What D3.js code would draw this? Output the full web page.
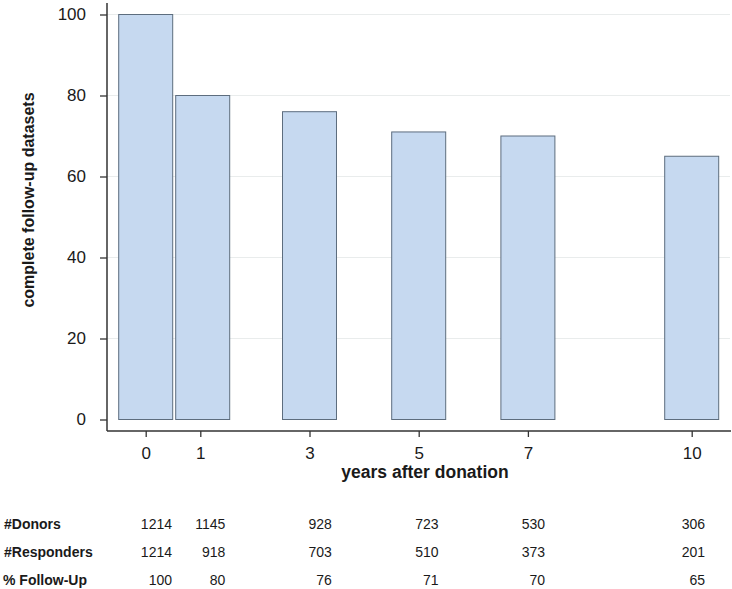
<!DOCTYPE html>
<html>
<head>
<meta charset="utf-8">
<script src="https://cdn.jsdelivr.net/npm/d3@7"></script>
<style>
  html, body { margin: 0; padding: 0; background: #fff; }
  svg { display: block; font-family: "Liberation Sans", Arial, sans-serif; }
</style>
</head>
<body>
<svg id="chart" width="732" height="589"></svg>
<script>
// ---- data ----
const years = [0, 1, 3, 5, 7, 10];
const followUpPct = [100, 80, 76, 71, 70, 65];
const donors = [1214, 1145, 928, 723, 530, 306];
const responders = [1214, 918, 703, 510, 373, 201];
const yTicks = [0, 20, 40, 60, 80, 100];
const rowLabels = ["#Donors", "#Responders", "% Follow-Up"];
const xTitle = "years after donation";
const yTitle = "complete follow-up datasets";

// ---- layout ----
const svg = d3.select("#chart");
const axisX0 = 107, axisX1 = 731, axisY = 431, axisTop = 3;
const x = d3.scaleLinear().domain([0, 10]).range([145.7, 691.7]);
const y = d3.scaleLinear().domain([0, 100]).range([419.5, 14.5]);
const xTable = d3.scaleLinear().domain([0, 10]).range([172, 705]);
const barW = 54, barGap = 3;
const textColor = "#1a1a1a";

// bar left edges: centred on the tick, pushed right if they would touch the previous bar
const barLeft = [];
years.forEach((d, i) => {
  let left = x(d) - barW / 2;
  if (i > 0) left = Math.max(left, barLeft[i - 1] + barW + barGap);
  barLeft.push(left);
});

// gridlines
svg.append("g").selectAll("line").data(yTicks.filter(d => d > 0)).join("line")
  .attr("x1", axisX0).attr("x2", 730)
  .attr("y1", d => y(d)).attr("y2", d => y(d))
  .attr("stroke", "#e9ecec").attr("stroke-width", 1.2);

// bars
svg.append("g").selectAll("rect").data(years).join("rect")
  .attr("x", (d, i) => barLeft[i])
  .attr("y", (d, i) => y(followUpPct[i]))
  .attr("width", barW)
  .attr("height", (d, i) => y(0) - y(followUpPct[i]))
  .attr("fill", "#c6d9f0")
  .attr("stroke", "#5d6d7e")
  .attr("stroke-width", 1);

// y axis
const yAxis = svg.append("g").attr("transform", `translate(${axisX0},0)`)
  .call(d3.axisLeft(y).tickValues(yTicks).tickSize(7).tickPadding(14));
yAxis.select(".domain").remove();
yAxis.selectAll(".tick line").attr("stroke", "#333").attr("stroke-width", 1.3);
yAxis.selectAll(".tick text").attr("font-size", 17).attr("fill", textColor)
  .attr("font-family", "'Liberation Sans', Arial, sans-serif");

// x axis
const xAxis = svg.append("g").attr("transform", `translate(0,${axisY})`)
  .call(d3.axisBottom(x).tickValues(years).tickSize(6).tickPadding(10));
xAxis.select(".domain").remove();
xAxis.selectAll(".tick line").attr("stroke", "#333").attr("stroke-width", 1.3);
xAxis.selectAll(".tick text").attr("font-size", 17).attr("fill", textColor)
  .attr("font-family", "'Liberation Sans', Arial, sans-serif");

// axis lines
svg.append("line").attr("x1", axisX0).attr("x2", axisX0).attr("y1", axisTop).attr("y2", axisY)
  .attr("stroke", "#333").attr("stroke-width", 1.5);
svg.append("line").attr("x1", axisX0).attr("x2", axisX1).attr("y1", axisY).attr("y2", axisY)
  .attr("stroke", "#333").attr("stroke-width", 1.5);

// axis titles
svg.append("text").attr("x", 425).attr("y", 478)
  .attr("text-anchor", "middle").attr("font-size", 17.5).attr("font-weight", "bold")
  .attr("fill", textColor).text(xTitle);
svg.append("text").attr("transform", "translate(34,200) rotate(-90)")
  .attr("text-anchor", "middle").attr("font-size", 16).attr("font-weight", "bold")
  .attr("fill", textColor).text(yTitle);

// table below
const rows = [donors, responders, followUpPct];
const rowY = [529, 557, 584.5];
const labelX = [4, 4, 3];
rows.forEach((vals, r) => {
  svg.append("text").attr("x", labelX[r]).attr("y", rowY[r])
    .attr("font-size", 14).attr("font-weight", "bold").attr("fill", textColor)
    .text(rowLabels[r]);
  svg.append("g").selectAll("text").data(vals).join("text")
    .attr("x", (d, i) => xTable(years[i]))
    .attr("y", rowY[r])
    .attr("text-anchor", "end")
    .attr("font-size", 14).attr("fill", textColor)
    .text(d => d);
});
</script>
</body>
</html>
